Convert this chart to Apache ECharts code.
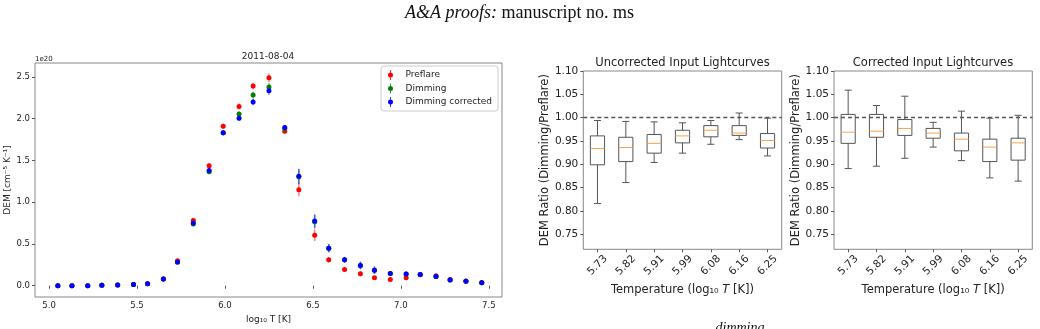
<!DOCTYPE html>
<html>
<head>
<meta charset="utf-8">
<script src="https://cdn.jsdelivr.net/npm/echarts@6/dist/echarts.min.js"></script>
<style>
  html, body { margin: 0; padding: 0; background: #fff; }
  #chart { width: 1040px; height: 329px; }
</style>
</head>
<body>
<div id="chart"></div>
<script>
// DEM curve (units of 1e20 cm^-5 K^-1)
const logT = [5.05, 5.13, 5.22, 5.30, 5.39, 5.48, 5.56, 5.65, 5.73, 5.82, 5.91, 5.99, 6.08, 6.16, 6.25,
  6.34, 6.42, 6.51, 6.59, 6.68, 6.77, 6.85, 6.94, 7.03, 7.11, 7.20, 7.28, 7.37, 7.46];
const preflare = [0.0, 0.0, 0.0, 0.005, 0.01, 0.015, 0.025, 0.08, 0.30, 0.78, 1.435, 1.91, 2.145, 2.39, 2.49,
  1.85, 1.15, 0.605, 0.31, 0.195, 0.142, 0.096, 0.073, 0.096, 0.13, 0.12, 0.075, 0.056, 0.04];
const preflareErr = [0.005, 0.005, 0.005, 0.005, 0.005, 0.005, 0.008, 0.01, 0.02, 0.03, 0.03, 0.03, 0.035, 0.04, 0.05,
  0.03, 0.08, 0.07, 0.035, 0.025, 0.03, 0.025, 0.015, 0.015, 0.015, 0.015, 0.015, 0.012, 0.01];
const dimming = [0.0, 0.0, 0.0, 0.005, 0.01, 0.015, 0.025, 0.08, 0.28, 0.74, 1.365, 1.83, 2.055, 2.283, 2.38,
  1.88, 1.305, 0.765, 0.45, 0.31, 0.243, 0.185, 0.146, 0.139, 0.134, 0.111, 0.069, 0.053, 0.035];
const dimmingErr = [0.005, 0.005, 0.005, 0.005, 0.005, 0.005, 0.008, 0.01, 0.02, 0.03, 0.03, 0.03, 0.03, 0.04, 0.05,
  0.03, 0.09, 0.08, 0.05, 0.035, 0.045, 0.045, 0.025, 0.02, 0.015, 0.015, 0.015, 0.012, 0.01];
const corrected = [0.0, 0.0, 0.0, 0.005, 0.01, 0.015, 0.025, 0.08, 0.285, 0.75, 1.38, 1.83, 2.005, 2.2, 2.335,
  1.895, 1.31, 0.775, 0.45, 0.31, 0.243, 0.185, 0.146, 0.139, 0.134, 0.111, 0.069, 0.053, 0.035];
const correctedErr = [0.005, 0.005, 0.005, 0.005, 0.005, 0.005, 0.008, 0.01, 0.02, 0.03, 0.03, 0.03, 0.03, 0.04, 0.05,
  0.03, 0.09, 0.08, 0.05, 0.035, 0.045, 0.045, 0.025, 0.02, 0.015, 0.015, 0.015, 0.012, 0.01];
const tempTicks = [5.0, 5.5, 6.0, 6.5, 7.0, 7.5];
const demTicks = [0.0, 0.5, 1.0, 1.5, 2.0, 2.5];

// box plots: [lower whisker, q1, median, q3, upper whisker]
const boxCategories = ['5.73', '5.82', '5.91', '5.99', '6.08', '6.16', '6.25'];
const uncorrectedStats = [
  [0.816, 0.899, 0.934, 0.961, 0.994],
  [0.861, 0.906, 0.936, 0.958, 0.992],
  [0.904, 0.924, 0.945, 0.964, 0.991],
  [0.924, 0.946, 0.961, 0.973, 0.989],
  [0.943, 0.959, 0.973, 0.983, 0.994],
  [0.953, 0.962, 0.967, 0.983, 1.010],
  [0.918, 0.935, 0.951, 0.966, 0.999]
];
const correctedStats = [
  [0.891, 0.945, 0.969, 1.007, 1.059],
  [0.896, 0.958, 0.971, 1.007, 1.026],
  [0.913, 0.962, 0.977, 0.996, 1.046],
  [0.937, 0.956, 0.967, 0.977, 0.990],
  [0.908, 0.929, 0.954, 0.967, 1.014],
  [0.871, 0.906, 0.937, 0.954, 0.999],
  [0.864, 0.909, 0.946, 0.956, 1.005]
];
const ratioTicks = [0.75, 0.80, 0.85, 0.90, 0.95, 1.00, 1.05, 1.10];

const FONT = 'DejaVu Sans';
const TXT = '#222';
const FRAME = '#888';
const BOXC = '#555';
const MEDC = '#ff9f4a';

let chart = echarts.init(document.getElementById('chart'));

function renderErr(color) {
  return function (params, api) {
    const x = api.value(0), y = api.value(1), e = api.value(2);
    const a = api.coord([x, y - e]);
    const b = api.coord([x, y + e]);
    return {
      type: 'line',
      shape: {x1: a[0], y1: a[1], x2: b[0], y2: b[1]},
      style: {stroke: color, lineWidth: 1.5, opacity: 0.5}
    };
  };
}

function renderBox(params, api) {
  const i = api.value(0);
  const band = api.size([1, 0])[0];
  const half = band * 0.25, cap = band * 0.125;
  const lo = api.coord([i, api.value(1)]);
  const q1 = api.coord([i, api.value(2)]);
  const med = api.coord([i, api.value(3)]);
  const q3 = api.coord([i, api.value(4)]);
  const hi = api.coord([i, api.value(5)]);
  const x = q1[0];
  const seg = (x1, y1, x2, y2, c) => ({
    type: 'line', shape: {x1, y1, x2, y2}, style: {stroke: c, lineWidth: 1}
  });
  return {
    type: 'group',
    children: [
      {type: 'rect', shape: {x: x - half, y: q3[1], width: 2 * half, height: q1[1] - q3[1]},
        style: {fill: 'none', stroke: BOXC, lineWidth: 1}},
      seg(x, q1[1], x, lo[1], BOXC),
      seg(x, q3[1], x, hi[1], BOXC),
      seg(x - cap, lo[1], x + cap, lo[1], BOXC),
      seg(x - cap, hi[1], x + cap, hi[1], BOXC),
      seg(x - half, med[1], x + half, med[1], MEDC)
    ]
  };
}

function demSeries(name, values, errs, color) {
  return [
    {
      type: 'custom', xAxisIndex: 0, yAxisIndex: 0, silent: true,
      renderItem: renderErr(color),
      data: logT.map((t, i) => [t, values[i], errs[i]]),
      encode: {x: 0, y: 1}
    },
    {
      type: 'scatter', name: name, xAxisIndex: 0, yAxisIndex: 0,
      symbolSize: 5, itemStyle: {color: color, opacity: 1},
      data: logT.map((t, i) => [t, values[i]])
    }
  ];
}

function ratioYAxis(idx) {
  return {
    type: 'value', gridIndex: idx, min: 0.718, max: 1.10,
    splitLine: {show: false},
    axisLine: {show: false},
    axisTick: {show: true, length: 3, customValues: ratioTicks, lineStyle: {color: '#555'}},
    axisLabel: {customValues: ratioTicks, margin: 5, fontSize: 10.5, fontFamily: FONT, color: TXT,
      formatter: v => v.toFixed(2)},
    name: 'DEM Ratio (Dimming/Preflare)', nameLocation: 'middle', nameRotate: 90, nameGap: 31,
    nameTextStyle: {fontSize: 11.5, fontFamily: FONT, color: TXT}
  };
}

function ratioXAxis(idx) {
  return {
    type: 'category', gridIndex: idx, data: boxCategories, boundaryGap: true,
    axisLine: {show: false},
    axisTick: {show: true, alignWithLabel: true, length: 3, lineStyle: {color: '#555'}},
    axisLabel: {rotate: 45, align: 'center', verticalAlign: 'middle', margin: 16,
      fontSize: 10.5, fontFamily: FONT, color: TXT},
    name: '{a|Temperature (log₁₀ }{b|T}{a| [K])}', nameLocation: 'middle', nameGap: 27,
    nameTextStyle: {
      rich: {
        a: {fontSize: 11.5, fontFamily: FONT, color: TXT},
        b: {fontSize: 11.5, fontFamily: FONT, fontStyle: 'italic', color: TXT}
      }
    }
  };
}

function boxSeries(idx, stats) {
  return [
    {
      type: 'custom', xAxisIndex: idx, yAxisIndex: idx, silent: true,
      renderItem: renderBox,
      data: stats.map((s, i) => [i].concat(s)),
      encode: {x: 0, y: [1, 2, 3, 4, 5]}
    },
    {
      type: 'line', xAxisIndex: idx, yAxisIndex: idx, data: [], silent: true,
      markLine: {
        silent: true, symbol: 'none', label: {show: false},
        lineStyle: {color: '#555', type: [4, 3], width: 1.3},
        data: [{yAxis: 1.0}]
      }
    }
  ];
}

const legendIcon = 'path://M4.6,0H5.4V10H4.6Z M5,2.5A2.5,2.5,0,1,1,5,7.5A2.5,2.5,0,1,1,5,2.5Z';

chart.setOption({
  animation: false,
  backgroundColor: '#fff',
  grid: [
    {left: 35, top: 63, width: 467, height: 241.5, show: true, borderColor: FRAME, borderWidth: 1},
    {left: 583.3, top: 71, width: 198.4, height: 178.3, show: true, borderColor: FRAME, borderWidth: 1},
    {left: 834, top: 71, width: 198.3, height: 178.3, show: true, borderColor: FRAME, borderWidth: 1}
  ],
  xAxis: [
    {
      type: 'value', gridIndex: 0, min: 4.92, max: 7.575,
      splitLine: {show: false},
      axisLine: {show: false},
      axisTick: {show: true, length: 3, customValues: tempTicks, lineStyle: {color: '#555'}},
      axisLabel: {customValues: tempTicks, margin: 4, fontSize: 8.5, fontFamily: FONT, color: TXT,
        formatter: v => v.toFixed(1)},
      name: 'log₁₀ T [K]', nameLocation: 'middle', nameGap: 18,
      nameTextStyle: {fontSize: 9, fontFamily: FONT, color: TXT}
    },
    ratioXAxis(1),
    ratioXAxis(2)
  ],
  yAxis: [
    {
      type: 'value', gridIndex: 0, min: -0.135, max: 2.666,
      splitLine: {show: false},
      axisLine: {show: false},
      axisTick: {show: true, length: 3, customValues: demTicks, lineStyle: {color: '#555'}},
      axisLabel: {customValues: demTicks, margin: 5, fontSize: 8.5, fontFamily: FONT, color: TXT,
        formatter: v => v.toFixed(1)},
      name: 'DEM [cm⁻⁵ K⁻¹]', nameLocation: 'middle', nameRotate: 90, nameGap: 16,
      nameTextStyle: {fontSize: 9, fontFamily: FONT, color: TXT}
    },
    ratioYAxis(1),
    ratioYAxis(2)
  ],
  legend: {
    data: ['Preflare', 'Dimming', 'Dimming corrected'],
    orient: 'vertical', left: 381, top: 66,
    padding: [4, 6, 4, 7],
    itemWidth: 10, itemHeight: 10, itemGap: 3.5,
    icon: legendIcon,
    backgroundColor: 'rgba(255,255,255,0.8)',
    borderColor: '#ccc', borderWidth: 1, borderRadius: 3,
    textStyle: {fontSize: 9, fontFamily: FONT, color: TXT, padding: [0, 0, 0, 5]}
  },
  graphic: [
    {type: 'text', x: 519.5, y: 13, silent: true, style: {
      text: '{i|A&A proofs:}{r| manuscript no. ms}', align: 'center', verticalAlign: 'middle',
      rich: {
        i: {fontFamily: 'Liberation Serif', fontStyle: 'italic', fontSize: 18, fill: '#111'},
        r: {fontFamily: 'Liberation Serif', fontSize: 18, fill: '#111'}
      }
    }},
    {type: 'text', x: 268, y: 57, silent: true, style: {
      text: '2011-08-04', align: 'center', verticalAlign: 'middle', font: '9px "DejaVu Sans"', fill: TXT}},
    {type: 'text', x: 35, y: 59, silent: true, style: {
      text: '1e20', align: 'left', verticalAlign: 'middle', font: '7px "DejaVu Sans"', fill: TXT}},
    {type: 'text', x: 682.5, y: 63.5, silent: true, style: {
      text: 'Uncorrected Input Lightcurves', align: 'center', verticalAlign: 'middle',
      font: '11.5px "DejaVu Sans"', fill: TXT}},
    {type: 'text', x: 933, y: 63.5, silent: true, style: {
      text: 'Corrected Input Lightcurves', align: 'center', verticalAlign: 'middle',
      font: '11.5px "DejaVu Sans"', fill: TXT}},
    {type: 'text', x: 740, y: 321, silent: true, style: {
      text: 'dimming', align: 'center', verticalAlign: 'top',
      font: 'italic 14px "Liberation Serif"', fill: '#111'}}
  ],
  series: [
    ...demSeries('Preflare', preflare, preflareErr, '#ff0000'),
    ...demSeries('Dimming', dimming, dimmingErr, '#008000'),
    ...demSeries('Dimming corrected', corrected, correctedErr, '#0000ff'),
    ...boxSeries(1, uncorrectedStats),
    ...boxSeries(2, correctedStats)
  ]
});
</script>
</body>
</html>
